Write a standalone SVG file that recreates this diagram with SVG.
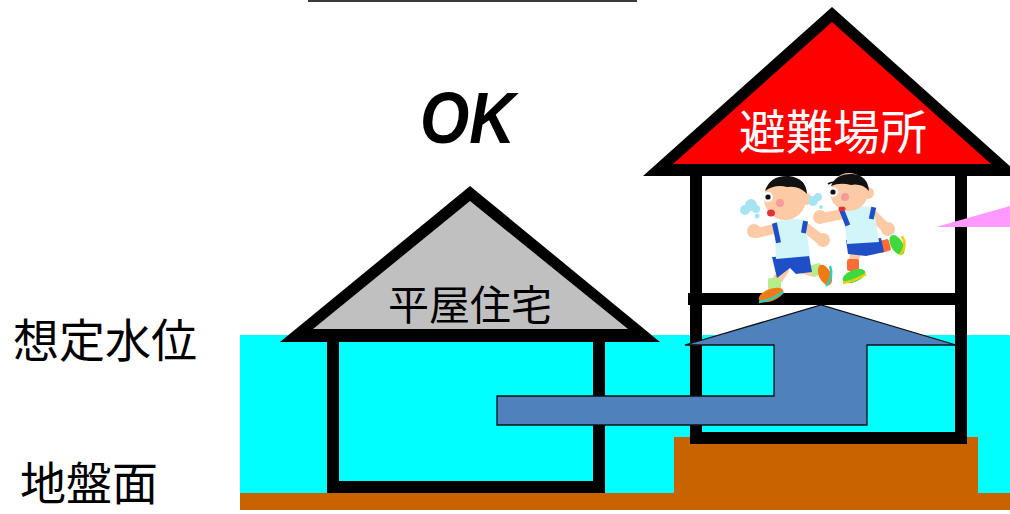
<svg xmlns="http://www.w3.org/2000/svg" width="1010" height="514" viewBox="0 0 1010 514">
  <style>
    .jp { font-family: "Noto Sans CJK JP", "Noto Sans CJK SC", sans-serif; }
    .wall { fill: none; stroke: #000; stroke-width: 12; stroke-linejoin: miter; }
    .skin { fill: #FCCBA6; }
    .limb { stroke: #FCCBA6; stroke-width: 10; stroke-linecap: round; fill: none; }
    .hair { fill: #111; }
    .shirt { fill: #D2F5FA; }
    .blue { fill: #1F4FC6; }
    .cheek { fill: #F49C9C; }
    .mouth { fill: #E3303A; }
    .breath { fill: #A6E4F3; }
  </style>

  <!-- top rule -->
  <rect x="308" y="0" width="329" height="2" fill="#3a3a3a"/>

  <!-- flood water and ground -->
  <g id="water">
    <rect x="240" y="335" width="770" height="158" fill="#00FFFF"/>
  </g>
  <g id="ground">
    <rect x="240" y="493" width="770" height="17" fill="#C86400"/>
    <rect x="674" y="437" width="304" height="56" fill="#C86400"/>
  </g>

  <!-- single-storey house -->
  <g id="house-flat">
    <path class="wall" d="M333,336 V487 H599 V336"/>
    <polygon points="280,342 470,186 660,342" fill="#000"/>
    <polygon points="313,329 470,201 628,329" fill="#C0C0C0"/>
    <text class="jp" x="470" y="320" font-size="41" text-anchor="middle" fill="#000">平屋住宅</text>
  </g>

  <!-- two-storey shelter -->
  <g id="shelter">
    <rect class="wall" x="696" y="170" width="265" height="268"/>
    <line x1="688" y1="299" x2="967" y2="299" stroke="#000" stroke-width="12"/>
    <polygon points="643,176 832,7 1021,176" fill="#000"/>
    <polygon points="673,164 832,22 991,164" fill="#FF0000"/>
    <text class="jp" x="833" y="149" font-size="47" text-anchor="middle" fill="#FFFFFF">避難場所</text>
  </g>

  <!-- evacuation route -->
  <g id="connectors">
    <polygon points="497,396 774,396 774,345 685,345 821,305 956,345 867,345 867,425 497,425"
             fill="#4F81BD" stroke="#111" stroke-width="1.3" stroke-linejoin="miter"/>
  </g>

  <!-- speech pointer at right edge -->
  <g id="pointer">
    <polygon points="936,227 1010,206 1010,227" fill="#FF99FF"/>
  </g>

  <!-- running child, rear -->
  <g id="child-rear">
    <!-- back leg -->
    <path class="limb" d="M872,250 L884,247"/>
    <rect x="879" y="240" width="11" height="12" rx="2" fill="#FF6A35" transform="rotate(-15 884 246)"/>
    <ellipse cx="897" cy="245" rx="11" ry="6" fill="#3FD93F" transform="rotate(60 897 245)"/>
    <path d="M902,236 Q908,246 900,255" stroke="#F3CF00" stroke-width="2.5" fill="none"/>
    <!-- front leg -->
    <path class="limb" d="M856,252 L853,264"/>
    <rect x="847" y="259" width="12" height="12" rx="2" fill="#FF6A35"/>
    <ellipse cx="854" cy="276" rx="12" ry="6" fill="#3FD93F" transform="rotate(-22 854 276)"/>
    <path d="M843,283 Q855,281 866,274" stroke="#F3CF00" stroke-width="2.5" fill="none"/>
    <!-- shorts -->
    <path class="blue" d="M846,240 L881,238 L884,252 L866,256 L848,254 Z"/>
    <!-- arms -->
    <path class="limb" d="M872,214 L886,228"/>
    <circle class="skin" cx="888" cy="229" r="7"/>
    <path class="limb" d="M847,213 L823,218"/>
    <circle class="skin" cx="820" cy="217" r="7"/>
    <!-- shirt -->
    <path class="shirt" d="M843,208 Q860,204 874,208 L879,242 L847,244 Z"/>
    <rect x="842" y="209" width="5" height="17" class="blue" transform="rotate(-22 845 217)"/>
    <rect x="870" y="207" width="5" height="12" class="blue" transform="rotate(12 872 213)"/>
    <!-- head -->
    <circle class="skin" cx="868" cy="193" r="6"/>
    <circle class="skin" cx="849" cy="192" r="19"/>
    <path class="hair" d="M831,186 Q836,173 853,174 Q868,176 869,191 Q862,183 851,185 Q840,182 831,186 Z"/>
    <path d="M828,184 Q832,181 837,183" stroke="#111" stroke-width="1.6" fill="none"/>
    <circle cx="833" cy="192" r="5" fill="#fff"/>
    <circle cx="833" cy="192" r="2.6" fill="#111"/>
    <circle class="cheek" cx="845" cy="197" r="4"/>
    <ellipse class="mouth" cx="842" cy="209" rx="3.5" ry="2.4"/>
  </g>

  <!-- running child, front -->
  <g id="child-front">
    <!-- back leg -->
    <path class="limb" d="M800,268 L814,272"/>
    <rect x="811" y="264" width="11" height="12" rx="2" fill="#B6EE8A" transform="rotate(-15 816 270)"/>
    <ellipse cx="825" cy="275" rx="11" ry="6" fill="#F07A14" transform="rotate(65 825 275)"/>
    <path d="M830,266 Q834,277 826,286" stroke="#2ECFB6" stroke-width="2.5" fill="none"/>
    <!-- front leg -->
    <path class="limb" d="M784,270 L776,282"/>
    <rect x="768" y="278" width="13" height="12" rx="2" fill="#B6EE8A"/>
    <ellipse cx="771" cy="295" rx="13" ry="6" fill="#F07A14" transform="rotate(-20 771 295)"/>
    <path d="M759,302 Q772,300 783,292" stroke="#2ECFB6" stroke-width="2.5" fill="none"/>
    <!-- shorts -->
    <path class="blue" d="M772,257 L809,255 L812,272 L796,274 L790,268 L777,278 Z"/>
    <!-- arms -->
    <path class="limb" d="M806,228 L820,239"/>
    <circle class="skin" cx="823" cy="240" r="7"/>
    <path class="limb" d="M778,228 L757,233"/>
    <circle class="skin" cx="754" cy="231" r="7"/>
    <!-- shirt -->
    <path class="shirt" d="M774,222 Q790,217 805,220 L810,256 L776,259 Z"/>
    <rect x="774" y="223" width="5" height="20" class="blue" transform="rotate(-12 776 233)"/>
    <rect x="802" y="221" width="5" height="12" class="blue" transform="rotate(10 804 227)"/>
    <!-- head -->
    <circle class="skin" cx="806" cy="199" r="6"/>
    <circle class="skin" cx="785" cy="199" r="21"/>
    <path class="hair" d="M765,191 Q770,175 789,176 Q806,178 807,194 Q799,185 787,187 Q775,184 765,191 Z"/>
    <circle cx="768" cy="197" r="5" fill="#fff"/>
    <circle cx="768" cy="197" r="2.6" fill="#111"/>
    <circle class="cheek" cx="780" cy="203" r="4"/>
    <ellipse class="mouth" cx="771" cy="213" rx="4" ry="3.5"/>
    <!-- breath puffs -->
    <circle class="breath" cx="745" cy="210" r="5"/>
    <circle class="breath" cx="751" cy="205" r="6"/>
    <circle class="breath" cx="756" cy="209" r="4"/>
    <circle class="breath" cx="757" cy="216" r="2.5"/>
    <circle class="breath" cx="813" cy="201" r="5"/>
    <circle class="breath" cx="818" cy="197" r="4"/>
    <circle class="breath" cx="821" cy="207" r="2"/>
  </g>

  <!-- labels -->
  <g id="labels">
    <text x="420" y="143" font-family="Liberation Sans, Arial, sans-serif" font-weight="bold" font-style="italic" font-size="72" textLength="95" lengthAdjust="spacingAndGlyphs" fill="#000">OK</text>
    <text class="jp" x="13" y="357" font-size="46" fill="#000">想定水位</text>
    <text class="jp" x="20" y="500" font-size="46" fill="#000">地盤面</text>
  </g>
</svg>
